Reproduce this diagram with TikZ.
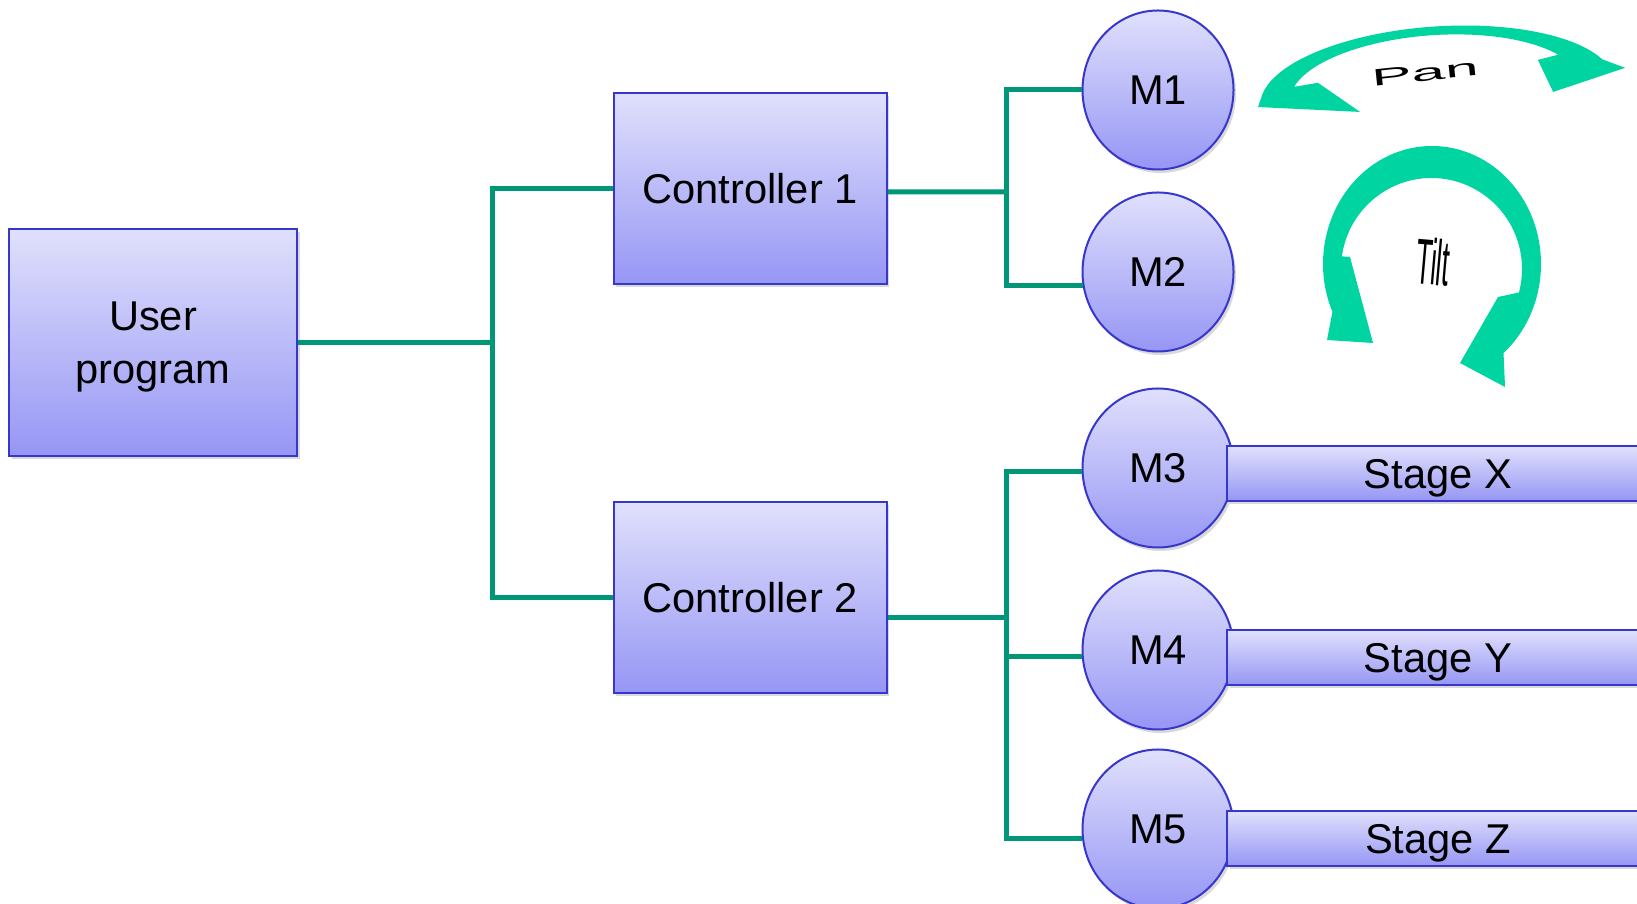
\documentclass[tikz,border=0pt]{standalone}
\usepackage{fontspec}
\setmainfont{Liberation Sans}
\usetikzlibrary{shapes.geometric,positioning,calc,shadows}

\definecolor{boxtop}{RGB}{224,224,252}
\definecolor{boxbot}{RGB}{150,150,245}
\definecolor{boxline}{RGB}{55,55,205}
\definecolor{wiregreen}{RGB}{0,150,120}
\definecolor{spin}{RGB}{0,212,160}

\newcommand{\labelfont}{\fontsize{23.7}{30.5}\selectfont}

\tikzset{
  block/.style={draw=boxline, line width=0.04cm, top color=boxtop, bottom color=boxbot,
    drop shadow={shadow xshift=0.05cm, shadow yshift=-0.07cm, opacity=0.3},
    align=center, inner sep=0pt, font=\labelfont},
  ctrlbox/.style={block, minimum width=5.46cm, minimum height=3.82cm},
  motor/.style={block, ellipse, minimum width=3.02cm, minimum height=3.18cm},
  stagebar/.style={block, text depth=0pt, minimum width=8.44cm, minimum height=1.1cm},
  wire/.style={draw=wiregreen, line width=0.1cm},
  spinarrow/.style={fill=spin, draw=none},
}

\begin{document}
\begin{tikzpicture}
  \useasboundingbox (0,0) rectangle (32.74,18.08);
  \clip (0,0) rectangle (32.74,18.08);

  % program and controllers
  \node[block, text depth=0pt, minimum width=5.76cm, minimum height=4.54cm] (user) at (3.06,11.23) {User\\program};
  \node[ctrlbox] (ctrl1) at (15,14.31) {Controller 1};
  \node[ctrlbox] (ctrl2) at (15,6.13) {Controller 2};

  % motors
  \node[motor] (m1) at (23.16,16.28) {M1};
  \node[motor, below=0.42cm of m1] (m2) {M2};
  \node[motor] (m3) at (23.16,8.72) {M3};
  \node[motor, below=0.42cm of m3] (m4) {M4};
  \node[motor, below=0.36cm of m4] (m5) {M5};

  % stages driven by M3..M5
  \node[stagebar, right=-0.17cm of m3, yshift=-0.11cm] (stagex) {Stage X};
  \node[stagebar, right=-0.17cm of m4, yshift=-0.15cm] (stagey) {Stage Y};
  \node[stagebar, right=-0.17cm of m5, yshift=-0.19cm] (stagez) {Stage Z};

  % wiring
  \coordinate (bus1) at (9.84,11.23);
  \coordinate (c1out) at ([yshift=-0.07cm]ctrl1.east);
  \coordinate (c2out) at ([yshift=-0.4cm]ctrl2.east);
  \coordinate (bus2) at (20.12,14.24);
  \draw[wire] (user.east) -- (bus1);
  \draw[wire] (ctrl1.west) -| (bus1) |- (ctrl2.west);
  \draw[wire] (c1out) -- (bus2);
  \draw[wire] (m1.west) -| (bus2) |- (m2.190);
  \draw[wire] (c2out) -- (c2out -| bus2);
  \draw[wire] (m3.183) -| (c2out -| bus2) |- (m5.187);
  \draw[wire] (m4.185) -- (m4.185 -| bus2);

  % pan arrow (tilted ring seen from the side)
  \begin{scope}[shift={(28.75,16.2)}, rotate=4]
    \fill[spinarrow] (-3.60,-0.01) -- (-1.57,-0.25) -- (-2.37,0.39)
      -- ($(-0.05,0.05)+(165:2.9 and 1.13)$) arc[start angle=165, end angle=30, x radius=2.9, y radius=1.13]
      -- (2.05,0.54) -- (2.31,-0.12) -- (3.78,0.26)
      -- (20:3.55 and 1.35) arc[start angle=20, end angle=170, x radius=3.55, y radius=1.35]
      -- cycle;
  \end{scope}
  \node[font=\labelfont, rotate=6, xscale=1.45, yscale=0.57] (pan) at (28.50,16.62) {Pan};

  % tilt arrow
  \begin{scope}[shift={(28.64,12.8)}]
    \fill[spinarrow] (-2.10,-1.52) -- (-1.18,-1.58) -- (-1.64,0.14)
      -- ($(-0.01,-0.1)+(172:1.81 and 1.82)$) arc[start angle=172, end angle=-15, x radius=1.81, y radius=1.82]
      -- (1.32,-0.66) -- (0.56,-1.98) -- (1.46,-2.46)
      -- (-49:2.18 and 2.36) arc[start angle=-49, end angle=204, x radius=2.18, y radius=2.36]
      -- cycle;
  \end{scope}
  \node[font=\labelfont, rotate=-5, xscale=0.63, yscale=1.55] (tilt) at (28.66,12.84) {Tilt};
\end{tikzpicture}
\end{document}
